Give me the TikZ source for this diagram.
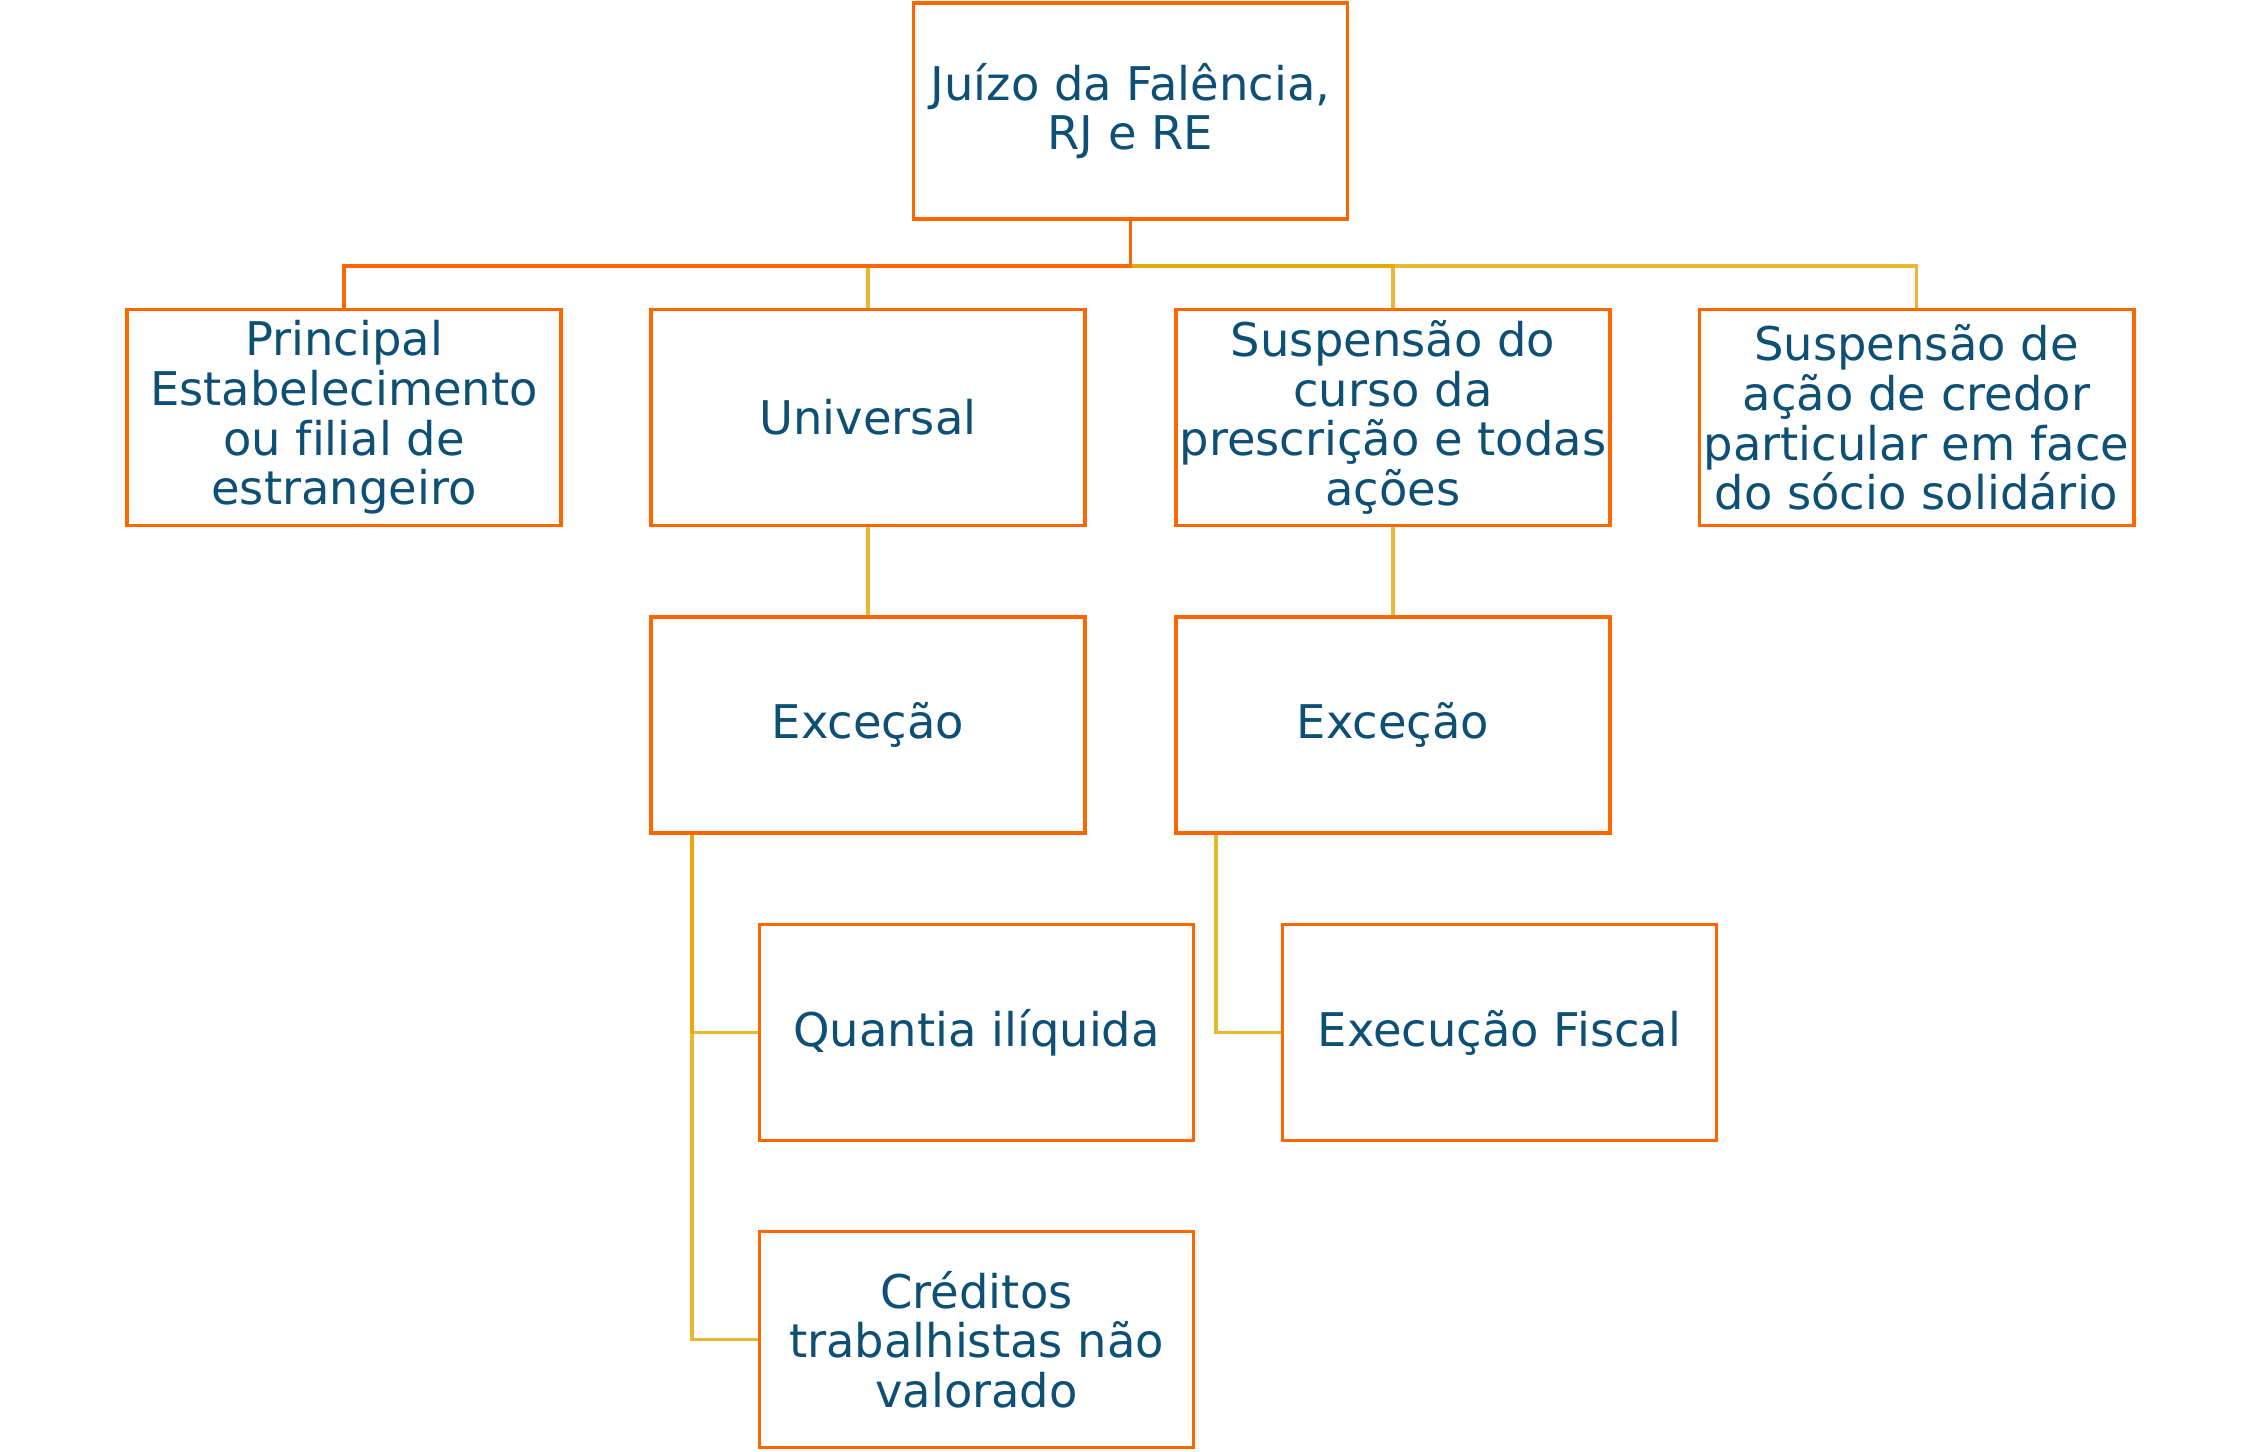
\documentclass[tikz,border=0pt]{standalone}
\usepackage{fontspec}
\setmainfont{DejaVu Sans}[Ligatures=NoCommon]
\usetikzlibrary{calc}
\definecolor{boxorange}{HTML}{FF6600}
\definecolor{linegold}{HTML}{E3A600}
\definecolor{txtblue}{HTML}{0E5075}
\begin{document}
\begin{tikzpicture}[x=0.01cm,y=-0.01cm,
  box/.style={draw=boxorange,line width=1.05pt,fill=white,minimum width=4.34cm,minimum height=2.16cm,inner sep=0pt,align=center,text=txtblue,font=\fontsize{13.2}{14.1}\selectfont},
  goldline/.style={draw=linegold,line width=0.95pt,draw opacity=0.8},
  orangeline/.style={draw=boxorange,line width=0.95pt}]
\useasboundingbox (0,0) rectangle (2261,1451);
\node[box] (p1) at (344,417.5) {Principal\\Estabelecimento\\ou filial de\\estrangeiro};
\node[box] (uni) at (868,417.5) {Universal};
\node[box] (sus) at (1393,417.5) {Suspensão do\\curso da\\prescrição e todas\\ações};
\node[box] (sus2) at (1916.5,417.5) {Suspensão de\\ação de credor\\particular em face\\do sócio solidário};
\node[box] (exc1) at (868,725) {Exceção};
\node[box] (exc2) at (1393,725) {Exceção};
\node[box] (qil) at (976.5,1032.5) {Quantia ilíquida};
\node[box] (exf) at (1499.5,1032.5) {Execução Fiscal};
\node[box] (cre) at (976.5,1339.5) {Créditos\\trabalhistas não\\valorado};
\node[box] (root) at (1130.5,111) {Juízo da Falência,\\RJ e RE};
\draw[goldline] (root.south) -- ++(0,45) -| (uni.north);
\draw[goldline] (root.south) -- ++(0,45) -| (sus.north);
\draw[goldline] (root.south) -- ++(0,45) -| (sus2.north);
\draw[orangeline] (root.south) -- ++(0,45) -| (p1.north);
\draw[goldline] (uni.south) -- (exc1.north);
\draw[goldline] (sus.south) -- (exc2.north);
\coordinate (b1) at ($(exc1.south west)+(43,0)$);
\coordinate (b2) at ($(exc2.south west)+(42,0)$);
\draw[goldline] (b1) |- (qil.west);
\draw[goldline] (b1) |- (cre.west);
\draw[goldline] (b2) |- (exf.west);
\end{tikzpicture}
\end{document}
